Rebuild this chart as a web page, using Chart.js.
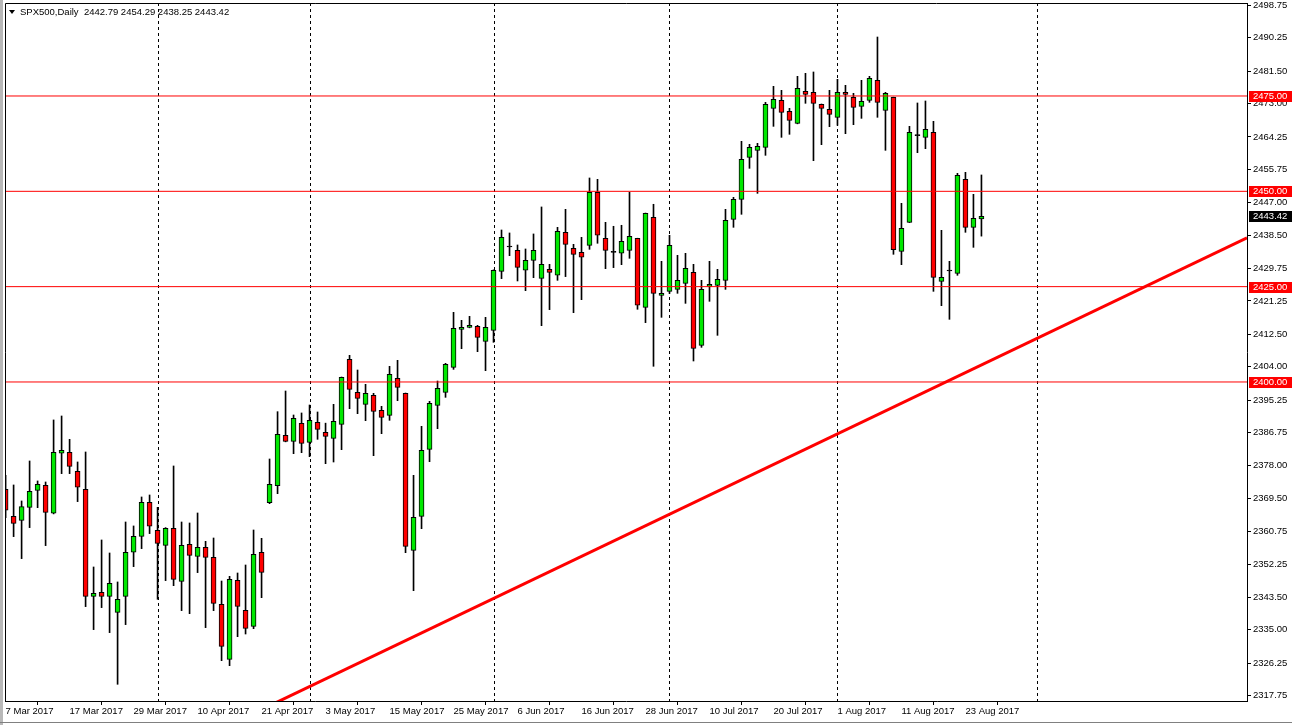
<!DOCTYPE html>
<html><head><meta charset="utf-8">
<script src="https://cdn.jsdelivr.net/npm/chart.js@4/dist/chart.umd.min.js"></script>
<style>html,body{margin:0;padding:0;background:#fff;overflow:hidden}canvas{display:block}</style>
</head><body>
<canvas id="c" width="1292" height="725"></canvas>
<script>
const symbolTitle = 'SPX500,Daily  2442.79 2454.29 2438.25 2443.42';
const tickLabels = ['7 Mar 2017','17 Mar 2017','29 Mar 2017','10 Apr 2017','21 Apr 2017','3 May 2017','15 May 2017','25 May 2017','6 Jun 2017','16 Jun 2017','28 Jun 2017','10 Jul 2017','20 Jul 2017','1 Aug 2017','11 Aug 2017','23 Aug 2017'];
const priceTicks = [2498.75,2490.25,2481.50,2473.00,2464.25,2455.75,2447.00,2438.50,2429.75,2421.25,2412.50,2404.00,2395.25,2386.75,2378.00,2369.50,2360.75,2352.25,2343.50,2335.00,2326.25,2317.75];
const levels = [2475, 2450, 2425, 2400];
const lastPrice = 2443.42;
const separators = [19, 38, 61, 83, 104, 129];
const trendX = [33.7, 155.2];
const trendY = [2315.8, 2437.8];

const open = [2371.85,2364.77,2363.72,2367.13,2371.59,2372.90,2365.56,2381.30,2381.55,2376.57,
2371.85,2343.79,2344.84,2343.79,2339.59,2343.79,2355.33,2359.52,2368.44,2361.10,
2357.16,2361.62,2347.72,2357.42,2354.28,2356.64,2354.01,2341.69,2327.26,2347.98,
2340.11,2335.92,2355.32,2368.35,2372.81,2386.01,2384.43,2389.16,2384.17,2389.42,
2386.79,2385.22,2388.89,2405.94,2397.28,2394.14,2396.49,2392.56,2391.25,2400.95,
2397.02,2355.85,2364.76,2382.33,2393.87,2397.28,2403.84,2413.80,2414.33,2414.59,
2410.66,2413.55,2429.02,2435.40,2434.53,2429.29,2431.91,2427.19,2429.55,2427.98,
2439.25,2435.06,2434.01,2435.84,2449.74,2437.68,2434.00,2433.75,2434.53,2437.68,
2419.58,2443.19,2422.72,2423.77,2424.29,2425.87,2428.75,2409.61,2425.08,2425.34,
2426.66,2442.65,2447.90,2458.91,2460.75,2461.54,2471.76,2473.86,2470.98,2467.83,
2476.22,2475.96,2472.82,2471.50,2469.41,2475.96,2474.65,2472.29,2473.86,2479.11,
2471.24,2474.65,2434.26,2441.87,2464.60,2464.16,2465.47,2426.40,2429.10,2428.49,
2453.15,2440.56,2442.79];
const high = [2375.50,2372.99,2368.79,2379.28,2374.04,2373.77,2390.04,2391.08,2384.96,2379.02,
2381.64,2351.48,2358.56,2355.15,2347.55,2363.28,2362.24,2369.84,2370.36,2367.13,
2361.80,2377.97,2363.28,2363.02,2365.64,2358.21,2359.08,2347.80,2349.03,2349.90,
2352.00,2361.18,2358.99,2379.80,2392.21,2397.63,2391.34,2391.87,2393.96,2392.13,
2389.20,2394.13,2401.30,2406.99,2403.14,2399.38,2397.02,2393.61,2404.10,2405.68,
2397.10,2375.51,2388.37,2394.92,2400.25,2404.89,2418.26,2416.17,2417.21,2414.85,
2416.95,2429.40,2439.86,2439.08,2435.93,2434.88,2438.82,2445.90,2430.86,2440.56,
2445.28,2436.10,2437.94,2453.50,2453.15,2441.87,2440.83,2441.09,2449.74,2437.70,
2444.30,2446.60,2431.64,2438.46,2433.21,2433.74,2430.85,2426.66,2431.64,2429.54,
2445.28,2448.42,2463.11,2462.32,2462.59,2473.34,2477.53,2476.48,2471.76,2480.16,
2480.94,2481.30,2472.90,2476.49,2479.37,2477.80,2475.70,2479.11,2480.16,2490.47,
2475.96,2474.70,2446.85,2467.05,2473.17,2473.69,2468.36,2439.77,2431.64,2454.72,
2454.98,2449.21,2454.29];
const low = [2364.40,2359.44,2353.67,2361.80,2367.04,2357.08,2365.40,2375.96,2375.96,2368.62,
2341.08,2335.05,2340.82,2334.26,2320.71,2336.36,2351.57,2356.29,2360.23,2343.00,
2347.90,2346.58,2340.03,2339.24,2350.00,2335.57,2340.03,2326.91,2325.60,2333.20,
2333.90,2335.30,2343.43,2368.09,2370.71,2384.30,2381.20,2381.46,2380.41,2384.96,
2378.57,2379.01,2382.25,2392.99,2391.69,2389.85,2380.67,2386.44,2389.94,2395.10,
2355.23,2345.27,2361.53,2379.10,2387.75,2395.97,2403.31,2408.73,2414.20,2407.95,
2402.96,2410.40,2427.10,2433.13,2426.49,2423.95,2427.36,2414.77,2418.97,2426.66,
2427.63,2418.18,2421.59,2434.79,2436.37,2429.72,2429.99,2430.77,2432.43,2419.06,
2415.56,2404.11,2416.95,2423.20,2423.25,2420.62,2405.50,2409.08,2421.15,2412.23,
2424.29,2440.56,2443.97,2456.03,2449.47,2459.44,2467.04,2464.16,2464.95,2467.70,
2473.08,2458.04,2462.24,2466.96,2467.31,2465.12,2467.48,2469.14,2473.34,2469.41,
2460.75,2433.48,2430.77,2441.80,2460.14,2461.19,2423.77,2420.01,2416.43,2427.97,
2439.25,2435.31,2438.25];
const close = [2366.35,2362.93,2367.31,2371.33,2373.16,2365.82,2381.55,2382.08,2377.88,2372.38,
2343.79,2344.58,2343.79,2347.20,2343.00,2355.33,2359.52,2368.44,2362.15,2357.69,
2361.62,2348.24,2357.16,2354.54,2356.64,2354.01,2341.95,2330.67,2348.24,2341.16,
2335.39,2354.80,2350.08,2373.16,2386.27,2384.43,2390.47,2383.91,2389.94,2387.58,
2385.75,2389.68,2401.22,2398.07,2395.71,2397.02,2392.30,2390.73,2402.00,2398.59,
2356.89,2364.50,2382.07,2394.40,2398.33,2404.63,2414.07,2414.33,2414.85,2411.71,
2414.33,2429.29,2437.94,2435.40,2430.07,2431.91,2434.53,2430.86,2428.76,2439.51,
2436.10,2433.48,2432.70,2449.74,2438.47,2434.53,2434.00,2436.89,2438.20,2420.11,
2444.24,2423.25,2423.25,2435.83,2426.66,2429.80,2408.82,2424.29,2425.61,2426.92,
2442.39,2447.90,2458.39,2461.54,2461.80,2472.81,2474.13,2470.71,2468.62,2477.01,
2475.44,2473.08,2471.77,2470.19,2475.96,2475.44,2472.03,2473.60,2479.63,2473.34,
2475.70,2434.70,2440.30,2465.47,2464.60,2466.26,2427.44,2427.44,2429.10,2454.19,
2440.56,2442.92,2443.42];

const FONT = 'Liberation Sans';
const UP = '#00e800', DOWN = '#ff0000';

const wickData = open.map((o, i) => ({x: i, y: [low[i], high[i]]}));
const bodyData = open.map((o, i) => ({x: i, y: [o, close[i]]}));
const levelSets = levels.map(l => ({
  type: 'line', data: [{x: -5, y: l}, {x: 200, y: l}],
  borderColor: '#ff0000', borderWidth: 1, pointRadius: 0, order: 1
}));

const overlay = {
  id: 'overlay',
  beforeDraw(chart) {
    const c = chart.ctx;
    c.save();
    c.fillStyle = '#fff';
    c.fillRect(0, 0, chart.width, chart.height);
    c.fillStyle = '#b8b8b8';
    c.fillRect(0, 0, 3, chart.height);
    c.fillStyle = '#808080';
    c.fillRect(0, 722, chart.width, 1);
    c.restore();
  },
  beforeDatasetsDraw(chart) {
    const c = chart.ctx, a = chart.chartArea, xs = chart.scales.x;
    c.save();
    c.strokeStyle = '#000';
    c.lineWidth = 1;
    c.setLineDash([3, 3]);
    separators.forEach(s => {
      const px = Math.round(xs.getPixelForValue(s)) + 0.5;
      c.beginPath(); c.moveTo(px, a.top); c.lineTo(px, a.bottom); c.stroke();
    });
    c.restore();
  },
  afterDraw(chart) {
    const c = chart.ctx, a = chart.chartArea, ys = chart.scales.y;
    c.save();
    c.strokeStyle = '#000'; c.lineWidth = 1;
    c.beginPath();
    c.moveTo(a.left + 0.5, a.bottom); c.lineTo(a.left + 0.5, a.top + 0.5); c.lineTo(a.right, a.top + 0.5);
    c.stroke();
    c.font = '9.5px "' + FONT + '"';
    c.textBaseline = 'middle';
    const box = (v, bg) => {
      const py = Math.round(ys.getPixelForValue(v));
      c.fillStyle = bg;
      c.fillRect(a.right + 2, py - 5, chart.width - a.right - 2, 11);
      c.fillStyle = '#fff';
      c.fillText(v.toFixed(2), a.right + 6, py + 0.5);
    };
    levels.forEach(l => box(l, '#ff0000'));
    box(lastPrice, '#000');
    // title
    c.fillStyle = '#000';
    c.beginPath(); c.moveTo(9, 10); c.lineTo(15, 10); c.lineTo(12, 14); c.closePath(); c.fill();
    c.fillText(symbolTitle, 20, 12);
    c.restore();
  }
};

new Chart(document.getElementById('c'), {
  type: 'bar',
  data: {
    datasets: [
      {label: 'wick', data: wickData, backgroundColor: '#000', barThickness: 1, grouped: false, order: 3},
      {label: 'body', data: bodyData, grouped: false, order: 2, barThickness: 5, minBarLength: 1,
       borderWidth: 1, borderColor: '#000', borderSkipped: false,
       backgroundColor: ctx => { const i = ctx.dataIndex; return close[i] > open[i] ? UP : (close[i] < open[i] ? DOWN : '#000'); }},
      ...levelSets,
      {type: 'line', data: [{x: trendX[0], y: trendY[0]}, {x: trendX[1], y: trendY[1]}],
       borderColor: '#ff0000', borderWidth: 3, pointRadius: 0, order: 0}
    ]
  },
  options: {
    responsive: false, animation: false, devicePixelRatio: 1,
    layout: {padding: {left: 5, top: 3, right: 0, bottom: 0}},
    plugins: {legend: {display: false}, tooltip: {enabled: false}},
    scales: {
      x: {
        type: 'linear', min: -0.075, max: 155.2, offset: false,
        afterBuildTicks: s => { s.ticks = tickLabels.map((t, k) => ({value: k * 8})); },
        afterFit: s => { s.height = 24; s.paddingLeft = 0; s.paddingRight = 0; },
        grid: {drawOnChartArea: false, tickLength: 4, color: '#000'},
        border: {color: '#000'},
        ticks: {autoSkip: false, maxRotation: 0, align: 'start', padding: 1, color: '#000',
                font: {family: FONT, size: 9.5}, callback: (v, i) => tickLabels[i]}
      },
      y: {
        position: 'right', min: 2316.33, max: 2499.39,
        afterBuildTicks: s => { s.ticks = priceTicks.map(v => ({value: v})); },
        afterFit: s => { s.width = 45; s.paddingTop = 0; s.paddingBottom = 0; },
        grid: {drawOnChartArea: false, tickLength: 4, color: '#000'},
        border: {color: '#000'},
        ticks: {autoSkip: false, padding: 2, color: '#000', font: {family: FONT, size: 9.5},
                callback: v => Number(v).toFixed(2)}
      }
    }
  },
  plugins: [overlay]
});
</script>
</body></html>
